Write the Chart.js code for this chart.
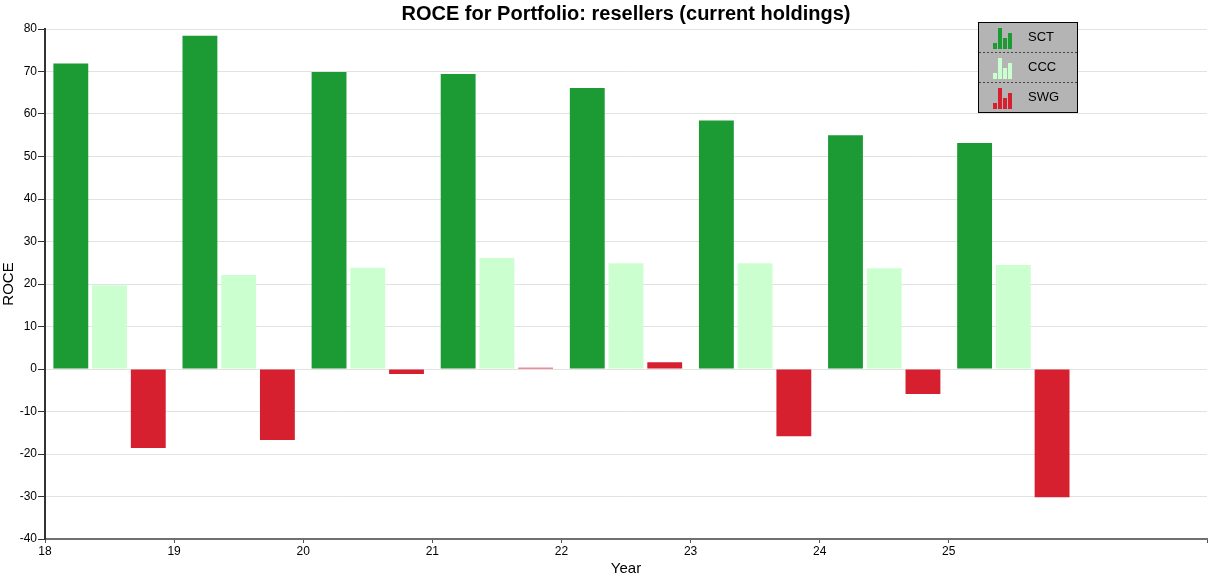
<!DOCTYPE html>
<html>
<head>
<meta charset="utf-8">
<script src="https://cdn.jsdelivr.net/npm/chart.js@4.4.1/dist/chart.umd.min.js"></script>
<style>
  html, body { margin: 0; padding: 0; background: #fff; }
  #wrap { width: 1221px; height: 573px; }
</style>
</head>
<body>
<div id="wrap"><canvas id="roceChart"></canvas></div>
<script>
// years on the axis (the last slot is empty, as in the source)
var years = ['18', '19', '20', '21', '22', '23', '24', '25', '26'];
var tickYears = [18, 19, 20, 21, 22, 23, 24, 25];

var sctValues = [71.9, 78.4, 69.9, 69.4, 66.1, 58.5, 55.0, 53.2];
var cccValues = [19.7, 22.1, 23.8, 26.1, 24.9, 24.9, 23.7, 24.5];
var swgValues = [-18.6, -16.7, -1.2, 0.3, 1.6, -15.8, -5.9, -30.2];

var seriesNames = ['SCT', 'CCC', 'SWG'];
var seriesColors = ['#1c9a34', '#ccffd0', '#d61f2f'];

var yTicks = [-40, -30, -20, -10, 0, 10, 20, 30, 40, 50, 60, 70, 80];

var font = 'Liberation Sans, Arial, sans-serif';

// legend box drawn like the original (grey panel with little bar icons)
var legendBox = {
    id: 'legendBox',
    afterDraw: function (chart) {
        var ctx = chart.ctx;
        var x = 978, y = 22, w = 99, rowH = 30;
        ctx.save();
        ctx.fillStyle = '#b4b4b4';
        ctx.fillRect(x, y, w, rowH * 3);
        ctx.strokeStyle = '#000';
        ctx.lineWidth = 1;
        ctx.strokeRect(x + 0.5, y + 0.5, w, rowH * 3);

        ctx.setLineDash([2, 2]);
        ctx.strokeStyle = '#444';
        for (var s = 1; s < 3; s++) {
            ctx.beginPath();
            ctx.moveTo(x + 1, y + rowH * s + 0.5);
            ctx.lineTo(x + w, y + rowH * s + 0.5);
            ctx.stroke();
        }
        ctx.setLineDash([]);

        var icon = [6, 21, 11, 16];
        for (var i = 0; i < 3; i++) {
            var base = y + rowH * i + 27;
            ctx.fillStyle = seriesColors[i];
            for (var k = 0; k < icon.length; k++) {
                ctx.fillRect(x + 15 + k * 5, base - icon[k], 4, icon[k]);
            }
            ctx.fillStyle = '#000';
            ctx.font = '13px ' + font;
            ctx.textBaseline = 'middle';
            ctx.fillText(seriesNames[i], x + 50, y + rowH * i + 15);
        }
        ctx.restore();
    }
};

function makeSet(i, values) {
    return {
        label: seriesNames[i],
        data: values,
        backgroundColor: seriesColors[i],
        borderWidth: 0,
        categoryPercentage: 0.9,
        barPercentage: 0.9,
        minBarLength: 1,
        xAxisID: 'x'
    };
}

new Chart(document.getElementById('roceChart'), {
    type: 'bar',
    data: {
        labels: years,
        datasets: [
            makeSet(0, sctValues),
            makeSet(1, cccValues),
            makeSet(2, swgValues)
        ]
    },
    plugins: [legendBox],
    options: {
        responsive: true,
        maintainAspectRatio: false,
        animation: false,
        layout: { padding: { top: 0, right: 14, left: 0, bottom: 0 } },
        plugins: {
            legend: { display: false },
            tooltip: { enabled: false },
            title: {
                display: true,
                text: 'ROCE for Portfolio: resellers (current holdings)',
                fullSize: false,
                color: '#000',
                font: { family: font, size: 20, weight: 'bold' },
                padding: { top: 2, bottom: 3 }
            }
        },
        scales: {
            x: {
                type: 'category',
                display: false,
                offset: true,
                grid: { display: false }
            },
            xYear: {
                type: 'linear',
                position: 'bottom',
                min: 18,
                max: 27,
                offset: false,
                afterBuildTicks: function (scale) {
                    var t = tickYears.map(function (v) { return { value: v }; });
                    t.push({ value: scale.max });   // end-of-axis tick, no label
                    scale.ticks = t;
                },
                afterFit: function (scale) { scale.height = 34; },
                border: { display: true, color: '#707070', width: 2 },
                grid: { display: true, offset: false, drawOnChartArea: false, color: '#555', tickLength: 4, lineWidth: 1 },
                ticks: {
                    color: '#000',
                    font: { family: font, size: 12 },
                    padding: 1,
                    maxRotation: 0,
                    callback: function (v) { return tickYears.indexOf(v) >= 0 ? String(v) : ''; }
                },
                title: {
                    display: true,
                    text: 'Year',
                    color: '#000',
                    font: { family: font, size: 15 },
                    padding: { top: 0, bottom: -5 }
                }
            },
            y: {
                min: -40,
                max: 80,
                afterBuildTicks: function (scale) {
                    scale.ticks = yTicks.map(function (v) { return { value: v }; });
                },
                afterFit: function (scale) { scale.width = 45; },
                border: { display: true, color: '#333', width: 2 },
                grid: { color: '#e2e2e2', lineWidth: 1, tickLength: 7, tickColor: '#333' },
                ticks: { color: '#000', font: { family: font, size: 12 }, padding: 1 },
                title: {
                    display: true,
                    text: 'ROCE',
                    color: '#000',
                    font: { family: font, size: 15 },
                    padding: { top: 0, bottom: 0 }
                }
            }
        }
    }
});
</script>
</body>
</html>
